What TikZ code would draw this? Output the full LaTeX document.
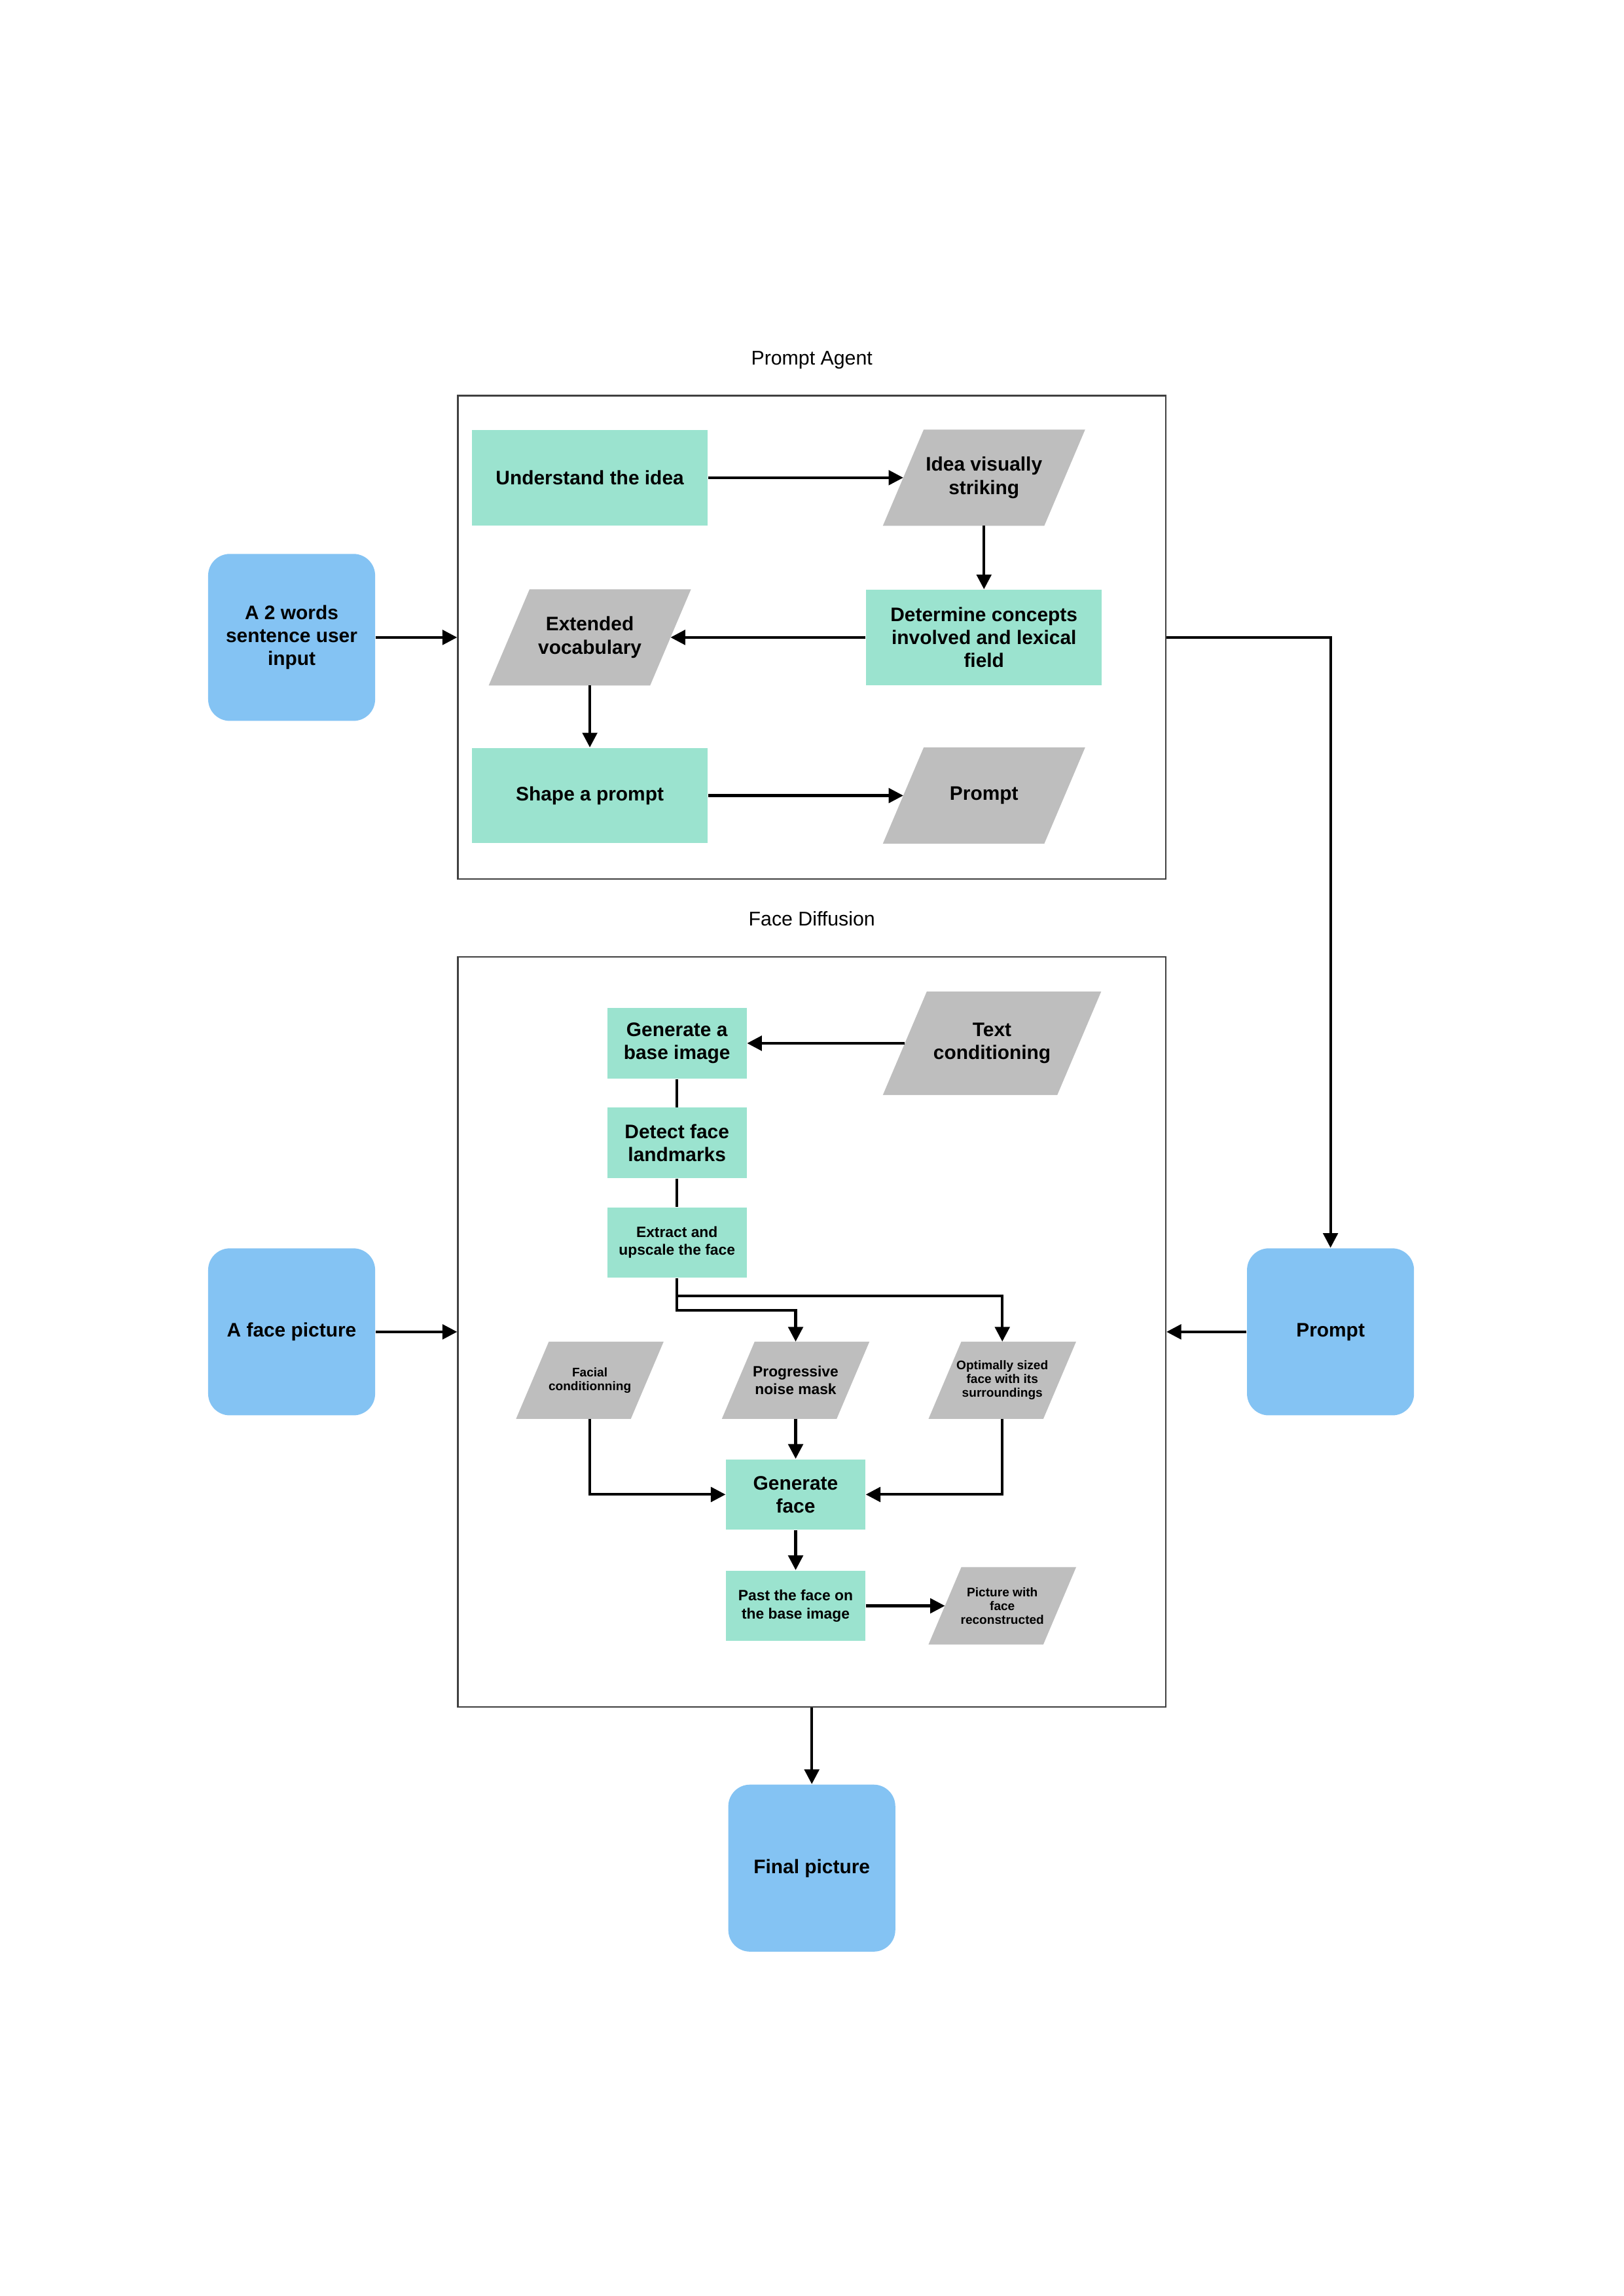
\documentclass[tikz,border=0pt]{standalone}
\usepackage{fontspec}
\setmainfont{Liberation Sans}
\usetikzlibrary{arrows.meta, positioning, calc, backgrounds}
\definecolor{tealbox}{RGB}{155,227,207}
\definecolor{graybox}{RGB}{190,190,190}
\definecolor{bluebox}{RGB}{132,195,243}

% relleno en paralelogramo detrás de un nodo (ancho = línea media)
\newcommand{\slantfill}[1]{\fill[graybox] let \p1=(#1.north west), \p2=(#1.south east), \n1={0.2122*(\y1-\y2)} in (\x1+\n1,\y1) -- (\x2+\n1,\y1) -- (\x2-\n1,\y2) -- (\x1-\n1,\y2) -- cycle;}

\begin{document}
\begin{tikzpicture}
  \tikzset{
    step_box/.style={rectangle, fill=tealbox, inner sep=0pt, align=center, font=\bfseries\fontsize{7.2}{8.5}\selectfont},
    data_box/.style={rectangle, inner sep=0pt, align=center, font=\bfseries\fontsize{7.2}{8.5}\selectfont},
    io_box/.style={rectangle, rounded corners=0.28cm, fill=bluebox, minimum width=2.16cm, minimum height=2.16cm, inner sep=0pt, align=center, font=\bfseries\fontsize{7.2}{8.4}\selectfont},
    frame_box/.style={draw=black!75, line width=0.6pt, inner sep=0pt},
    title_text/.style={font=\fontsize{7.3}{8.5}\selectfont},
    small_text/.style={font=\bfseries\fontsize{5.5}{6.6}\selectfont},
    tiny_text/.style={font=\bfseries\fontsize{4.6}{5.1}\selectfont},
    arrow_line/.style={-{Triangle[length=1.9mm, width=1.9mm]}, line width=1pt},
    plain_line/.style={line width=1pt}
  }

  % Tamaño de la página
  \useasboundingbox (0,0) rectangle (21,-29.7);

  % Marcos y títulos
  \node[frame_box, minimum width=9.154cm, minimum height=6.254cm] (agent_frame) at (10.5,-8.245) {};
  \node[title_text] (agent_title) at (10.5,-4.662) {Prompt Agent};
  \node[frame_box, minimum width=9.154cm, minimum height=9.704cm] (diffusion_frame) at (10.5,-17.228) {};
  \node[title_text] (diffusion_title) at (10.5,-11.884) {Face Diffusion};

  % Entradas y salidas
  \node[io_box] (user_input) at (3.772,-8.245) {A 2 words\\sentence user\\input};
  \node[io_box] (face_picture) at (3.772,-17.228) {A face picture};
  \node[io_box] (prompt_box) at (17.209,-17.228) {Prompt};
  \node[io_box] (final_picture) at (10.5,-24.165) {Final picture};

  % Prompt Agent
  \node[step_box, minimum width=3.051cm, minimum height=1.232cm] (understand) at (7.629,-6.179) {Understand the idea};
  \node[data_box, minimum width=2.074cm, minimum height=1.232cm] (striking) at (12.727,-6.179) {Idea visually\\striking};
  \node[step_box, minimum width=3.051cm, minimum height=1.232cm] (concepts) at (12.727,-8.245) {Determine concepts\\involved and lexical\\field};
  \node[data_box, minimum width=2.074cm, minimum height=1.232cm] (vocabulary) at (7.629,-8.245) {Extended\\vocabulary};
  \node[step_box, minimum width=3.051cm, minimum height=1.232cm] (shape) at (7.629,-10.291) {Shape a prompt};
  \node[data_box, minimum width=2.074cm, minimum height=1.232cm] (prompt_out) at (12.727,-10.291) {Prompt};

  % Face Diffusion
  \node[step_box, minimum width=1.80cm, minimum height=0.91cm] (base_image) at (8.756,-13.495) {Generate a\\base image};
  \node[data_box, minimum width=2.242cm, minimum height=1.327cm] (text_cond) at (12.831,-13.495) {Text\\conditioning};
  \node[step_box, minimum width=1.80cm, minimum height=0.91cm] (landmarks) at (8.756,-14.783) {Detect face\\landmarks};
  \node[step_box, small_text, minimum width=1.80cm, minimum height=0.91cm] (extract) at (8.756,-16.072) {Extract and\\upscale the face};
  \node[data_box, tiny_text, minimum width=1.471cm, minimum height=0.986cm] (facial) at (7.629,-17.854) {Facial\\conditionning};
  \node[data_box, small_text, minimum width=1.471cm, minimum height=0.986cm] (noise_mask) at (10.291,-17.854) {Progressive\\noise mask};
  \node[data_box, tiny_text, minimum width=1.471cm, minimum height=0.986cm] (surroundings) at (12.964,-17.854) {Optimally sized\\face with its\\surroundings};
  \node[step_box, minimum width=1.80cm, minimum height=0.91cm] (gen_face) at (10.291,-19.332) {Generate\\face};
  \node[step_box, small_text, minimum width=1.80cm, minimum height=0.91cm] (paste) at (10.291,-20.772) {Past the face on\\the base image};
  \node[data_box, tiny_text, minimum width=1.471cm, minimum height=0.986cm] (reconstructed) at (12.964,-20.772) {Picture with\\face\\reconstructed};

  % Paralelogramos grises (detrás del texto)
  \begin{scope}[on background layer]
    \foreach \dname in {striking, vocabulary, prompt_out, text_cond, facial, noise_mask, surroundings, reconstructed}
      {\slantfill{\dname}}
  \end{scope}

  % Conexiones del Prompt Agent
  \draw[arrow_line] (understand) -- (striking);
  \draw[arrow_line] (striking) -- (concepts);
  \draw[arrow_line] (concepts) -- (vocabulary);
  \draw[arrow_line] (vocabulary) -- (shape);
  \draw[arrow_line] (shape) -- (prompt_out);

  % Conexiones entre bloques
  \draw[arrow_line] (user_input) -- (agent_frame);
  \draw[arrow_line] (agent_frame.east) -| (prompt_box.north);
  \draw[arrow_line] (prompt_box) -- (diffusion_frame);
  \draw[arrow_line] (face_picture) -- (diffusion_frame);
  \draw[arrow_line] (diffusion_frame.south) -- (final_picture.north);

  % Conexiones del Face Diffusion
  \draw[arrow_line] (text_cond) -- (base_image);
  \draw[plain_line] (base_image) -- (landmarks);
  \draw[plain_line] (landmarks) -- (extract);
  \draw[arrow_line] (extract.south) -- ++(0,-0.227) -| (surroundings.north);
  \draw[arrow_line] (extract.south) -- ++(0,-0.417) -| (noise_mask.north);
  \draw[arrow_line] (facial.south) |- (gen_face.west);
  \draw[arrow_line] (noise_mask) -- (gen_face);
  \draw[arrow_line] (surroundings.south) |- (gen_face.east);
  \draw[arrow_line] (gen_face) -- (paste);
  \draw[arrow_line] (paste) -- (reconstructed);
\end{tikzpicture}
\end{document}
